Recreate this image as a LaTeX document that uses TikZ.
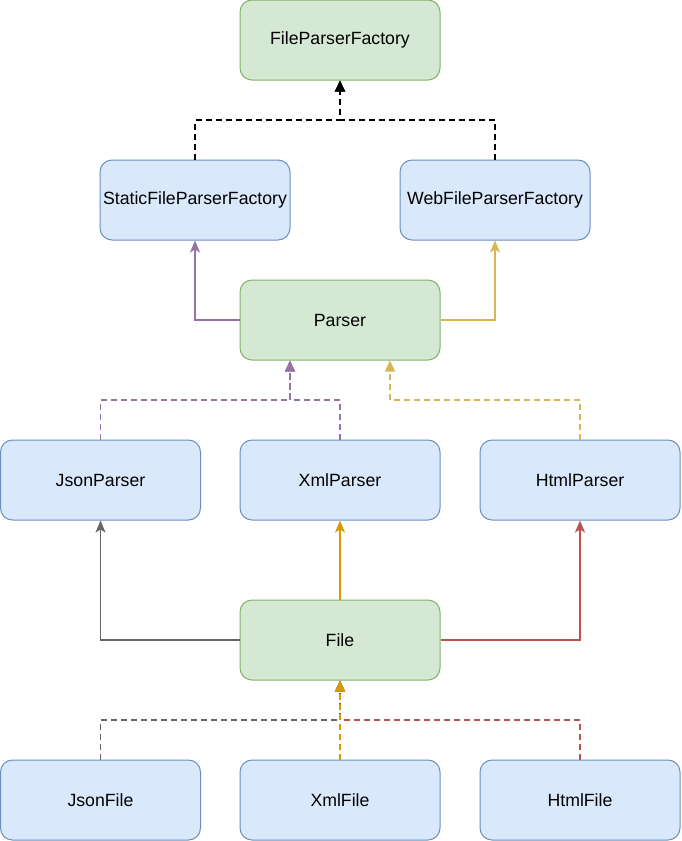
\documentclass[tikz,border=0pt]{standalone}
\usepackage{fontspec}
\setmainfont{Liberation Sans}
\usetikzlibrary{arrows.meta}
\definecolor{gfill}{HTML}{D5E8D4}
\definecolor{gdraw}{HTML}{82B366}
\definecolor{bfill}{HTML}{DAE8FC}
\definecolor{bdraw}{HTML}{6C8EBF}
\definecolor{cpurple}{HTML}{9673A6}
\definecolor{cyellow}{HTML}{D6B656}
\definecolor{cgray}{HTML}{666666}
\definecolor{corange}{HTML}{D79B00}
\definecolor{cred}{HTML}{B85450}
\tikzset{
  box/.style={rounded corners=12pt, line width=1pt, minimum height=80pt, inner sep=0pt,
    font=\fontsize{17.7}{20}\selectfont, text=black},
  gbox/.style={box, draw=gdraw, fill=gfill, minimum width=200pt},
  bbox/.style={box, draw=bdraw, fill=bfill, minimum width=200pt},
  bboxn/.style={box, draw=bdraw, fill=bfill, minimum width=190pt},
  solidarr/.style={line width=1.3pt, -{Stealth[length=12pt,width=10pt,inset=3pt]}},
  dasharr/.style={line width=1.5pt, dash pattern=on 6pt off 4pt, -{Triangle[length=11pt,width=10pt]}},
}
\begin{document}
\begin{tikzpicture}[x=1pt,y=-1pt]
\useasboundingbox (0,0) rectangle (681,841);
\node[gbox] (FPF) at (340,40) {FileParserFactory};
\node[bboxn] (SFPF) at (195,200) {StaticFileParserFactory};
\node[bboxn] (WFPF) at (495,200) {WebFileParserFactory};
\node[gbox] (Parser) at (340,320) {Parser};
\node[bbox] (JsonParser) at (100.5,480) {JsonParser};
\node[bbox] (XmlParser) at (340,480) {XmlParser};
\node[bbox] (HtmlParser) at (580,480) {HtmlParser};
\node[gbox] (File) at (340,640) {File};
\node[bbox] (JsonFile) at (100.5,800) {JsonFile};
\node[bbox] (XmlFile) at (340,800) {XmlFile};
\node[bbox] (HtmlFile) at (580,800) {HtmlFile};

\coordinate (j1) at (340,120);
\coordinate (j2) at (290,400);
\coordinate (j3) at (390,400);
\coordinate (j4) at (340,720);

% factories
\draw[dasharr, black, line width=1.8pt] (SFPF.north) |- (j1) -- (FPF.south);
\draw[dasharr, black, line width=1.8pt] (WFPF.north) |- (j1) -- (FPF.south);
% parser to factories
\draw[solidarr, cpurple] (Parser.west) -| (SFPF.south);
\draw[solidarr, cyellow] (Parser.east) -| (WFPF.south);
% parsers to Parser
\draw[dasharr, cpurple] (JsonParser.north) |- (j2) -- ([xshift=-50pt]Parser.south);
\draw[dasharr, cpurple] (XmlParser.north) |- (j2) -- ([xshift=-50pt]Parser.south);
\draw[dasharr, cyellow] (HtmlParser.north) |- (j3) -- ([xshift=50pt]Parser.south);
% File to parsers
\draw[solidarr, cgray] (File.west) -| (JsonParser.south);
\draw[solidarr, corange] (File.north) -- (XmlParser.south);
\draw[solidarr, cred] (File.east) -| (HtmlParser.south);
% files to File
\draw[dasharr, cgray] (JsonFile.north) |- (j4) -- (File.south);
\draw[dasharr, cred] (HtmlFile.north) |- (j4) -- (File.south);
\draw[dasharr, corange] (XmlFile.north) -- (File.south);
\end{tikzpicture}
\end{document}
